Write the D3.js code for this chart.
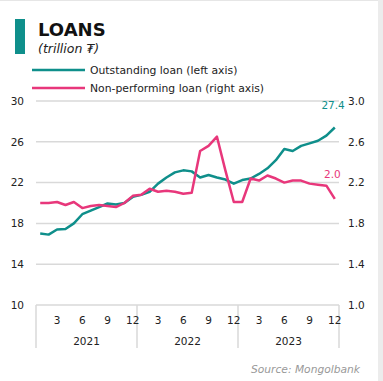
<!DOCTYPE html>
<html>
<head>
<meta charset="utf-8">
<script src="https://cdn.jsdelivr.net/npm/d3@7"></script>
<style>
  body { margin: 0; background: #fff; }
  svg { display: block; font-family: "DejaVu Sans", sans-serif; }
</style>
</head>
<body>
<svg id="chart" width="383" height="381"></svg>
<script>
var years = [2021, 2022, 2023];
var monthTicks = [3, 6, 9, 12];
var outstanding = [17.0, 16.9, 17.4, 17.45, 18.0, 18.9, 19.25, 19.6, 19.95, 19.85, 20.0, 20.6,
                   20.8, 21.1, 21.9, 22.5, 23.0, 23.2, 23.1, 22.5, 22.75, 22.5, 22.3, 21.9,
                   22.25, 22.4, 22.85, 23.4, 24.2, 25.3, 25.1, 25.6, 25.85, 26.1, 26.6, 27.4];
var nonPerforming = [2.0, 2.0, 2.01, 1.98, 2.01, 1.95, 1.97, 1.98, 1.97, 1.96, 2.0, 2.07,
                     2.08, 2.14, 2.11, 2.12, 2.11, 2.09, 2.10, 2.51, 2.56, 2.65, 2.32, 2.01,
                     2.01, 2.24, 2.22, 2.27, 2.24, 2.20, 2.22, 2.22, 2.19, 2.18, 2.17, 2.04];
var leftTicks = [10, 14, 18, 22, 26, 30];
var rightTicks = [1.0, 1.4, 1.8, 2.2, 2.6, 3.0];

var teal = "#0f8f8b";
var pink = "#e8377b";

var svg = d3.select("#chart");
var pLeft = 36, pRight = 339, pTop = 101, pBottom = 305;

// frame bits
svg.append("rect").attr("x", 0).attr("y", 0).attr("width", 383).attr("height", 1).attr("fill", "#e6e6e6");
svg.append("rect").attr("x", 378).attr("y", 0).attr("width", 5).attr("height", 381).attr("fill", "#ececec");

// title
svg.append("rect").attr("x", 15).attr("y", 19).attr("width", 10).attr("height", 35).attr("fill", teal);
svg.append("text").attr("x", 38).attr("y", 36).text("LOANS")
  .attr("font-size", 18).attr("font-weight", 700).attr("fill", "#111");
svg.append("text").attr("x", 38).attr("y", 53).text("(trillion ₮)")
  .attr("font-size", 12.5).attr("font-style", "italic").attr("fill", "#222");

// legend
var legend = [["Outstanding loan (left axis)", teal], ["Non-performing loan (right axis)", pink]];
legend.forEach(function(d, i) {
  var y = 70 + i * 18;
  svg.append("line").attr("x1", 32).attr("x2", 85).attr("y1", y).attr("y2", y)
    .attr("stroke", d[1]).attr("stroke-width", 2.5);
  svg.append("text").attr("x", 90).attr("y", y + 4).text(d[0])
    .attr("font-size", 10.8).attr("fill", "#222");
});

var x = d3.scaleBand().domain(d3.range(outstanding.length)).range([pLeft, pRight]);
var yL = d3.scaleLinear().domain([10, 30]).range([pBottom, pTop]);
var yR = d3.scaleLinear().domain([1.0, 3.0]).range([pBottom, pTop]);

// gridlines
svg.append("g").selectAll("line").data(leftTicks.slice(1)).enter().append("line")
  .attr("x1", pLeft).attr("x2", pRight)
  .attr("y1", function(d) { return yL(d); }).attr("y2", function(d) { return yL(d); })
  .attr("stroke", "#d9d9d9").attr("stroke-width", 1.5);

// left axis
var gl = svg.append("g").attr("transform", "translate(" + pLeft + ",0)")
  .call(d3.axisLeft(yL).tickValues(leftTicks).tickSize(0).tickPadding(12).tickFormat(d3.format("d")));
gl.select(".domain").remove();
gl.selectAll("text").attr("font-size", 10.5).attr("fill", "#222").attr("font-family", "DejaVu Sans, sans-serif");

// right axis
var gr = svg.append("g").attr("transform", "translate(" + pRight + ",0)")
  .call(d3.axisRight(yR).tickValues(rightTicks).tickSize(0).tickPadding(9).tickFormat(d3.format(".1f")));
gr.select(".domain").remove();
gr.selectAll("text").attr("font-size", 10.5).attr("fill", "#222").attr("font-family", "DejaVu Sans, sans-serif");

// x axis
svg.append("line").attr("x1", pLeft).attr("x2", pRight).attr("y1", pBottom).attr("y2", pBottom)
  .attr("stroke", "#d9d9d9").attr("stroke-width", 1.5);
var bounds = [0, 12, 24, 36];
svg.append("g").selectAll("line").data(bounds).enter().append("line")
  .attr("x1", function(d) { return d < 36 ? x(d) : pRight; })
  .attr("x2", function(d) { return d < 36 ? x(d) : pRight; })
  .attr("y1", pBottom).attr("y2", 348)
  .attr("stroke", "#d9d9d9").attr("stroke-width", 1.5);

var monthLabels = [];
years.forEach(function(yr, yi) {
  monthTicks.forEach(function(m) { monthLabels.push({ i: yi * 12 + m - 1, m: m }); });
});
svg.append("g").selectAll("text").data(monthLabels).enter().append("text")
  .attr("x", function(d) { return x(d.i) + x.bandwidth() / 2; })
  .attr("y", 324).attr("text-anchor", "middle")
  .attr("font-size", 10.5).attr("fill", "#222").text(function(d) { return d.m; });
svg.append("g").selectAll("text").data(years).enter().append("text")
  .attr("x", function(d, i) { return x(i * 12) + x.bandwidth() * 6; })
  .attr("y", 345).attr("text-anchor", "middle")
  .attr("font-size", 10.5).attr("fill", "#222").text(function(d) { return d; });

// lines
var lineL = d3.line().x(function(d, i) { return x(i) + x.bandwidth() / 2; }).y(function(d) { return yL(d); });
var lineR = d3.line().x(function(d, i) { return x(i) + x.bandwidth() / 2; }).y(function(d) { return yR(d); });
svg.append("path").datum(outstanding).attr("d", lineL)
  .attr("fill", "none").attr("stroke", teal).attr("stroke-width", 2.5).attr("stroke-linejoin", "round");
svg.append("path").datum(nonPerforming).attr("d", lineR)
  .attr("fill", "none").attr("stroke", pink).attr("stroke-width", 2.5).attr("stroke-linejoin", "round");

// end labels
var last = outstanding.length - 1;
svg.append("text").attr("x", x(last) + x.bandwidth() / 2 + 10).attr("y", yL(outstanding[last]) - 19)
  .attr("text-anchor", "end").attr("font-size", 10.5).attr("fill", teal).text(outstanding[last].toFixed(1));
svg.append("text").attr("x", x(last) + x.bandwidth() / 2 + 6).attr("y", yR(nonPerforming[last]) - 21)
  .attr("text-anchor", "end").attr("font-size", 10.5).attr("fill", pink).text(nonPerforming[last].toFixed(1));

// source
svg.append("text").attr("x", 360).attr("y", 373).attr("text-anchor", "end")
  .attr("font-size", 10.7).attr("font-style", "italic").attr("fill", "#999").text("Source: Mongolbank");
</script>
</body>
</html>
